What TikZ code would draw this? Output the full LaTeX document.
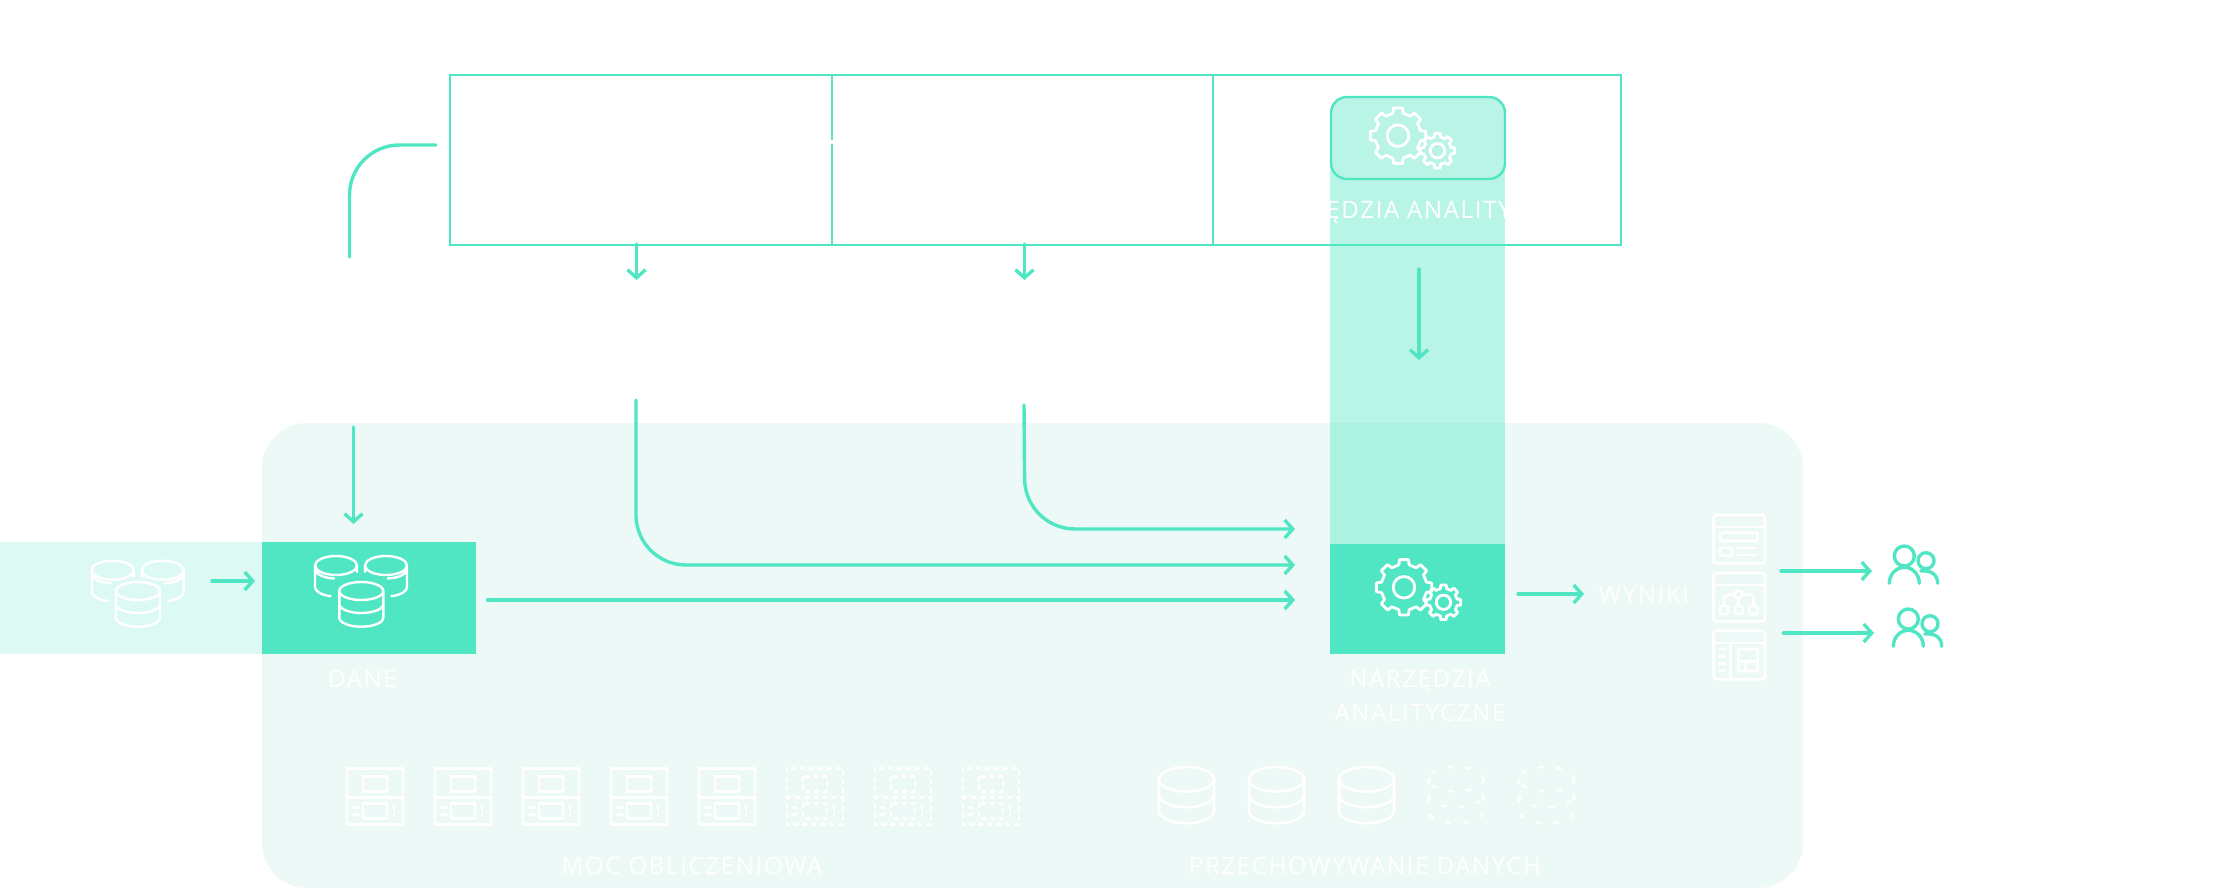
\documentclass[tikz,border=0pt]{standalone}
\usepackage{xcolor}
\usepackage{fontspec}
\setmainfont{Open Sans}
\newfontfamily\capfont[LetterSpace=7]{Open Sans}
\usetikzlibrary{arrows.meta,positioning}
\definecolor{lumateal}{HTML}{50E6C3}
\definecolor{lumapanel}{HTML}{ECF9F6}
\definecolor{lumacolumn}{HTML}{BAF4E6}
\tikzstyle{flow} = [line width=3.4pt, lumateal, line cap=round]
\tikzstyle{arrow} = [flow, -{Straight Barb[length=8pt,width=18pt,line width=3.4pt]}]
\tikzstyle{iconline} = [white, line width=2.8pt, line cap=round, line join=round]
\tikzstyle{dotline} = [dash pattern=on 3.5pt off 5.5pt]
\tikzstyle{sparse} = [dash pattern=on 4pt off 14pt]
\tikzstyle{userline} = [iconline, lumateal, line width=3.4pt]

% icons are placed from their top left corner
\newcommand{\gearicon}[4]{%
\draw[iconline, shift={(#1,#2)}] (-13:#4) \foreach \t in {0,45,...,315} {-- (\t-13:#4) -- (\t-9:#3) -- (\t+9:#3) -- (\t+13:#4)} -- cycle;}
\newcommand{\gearpair}[2]{%
\gearicon{#1}{#2}{28}{23}
\gearicon{#1+39.5}{#2+15}{17.5}{14}
\draw[iconline] (#1,#2) circle[radius=10.8pt] (#1+39.5,#2+15) circle[radius=7.2pt];}
\newcommand{\servericon}[2]{%
\draw[iconline, line width=2.6pt, shift={(#1,768.5)}, #2] (0,0) rectangle (56,56) (0,29) -- (56,29)
 (16,8) rectangle (40,23) (16,35) rectangle (40,50)
 (6,39) -- (12,39) (6,46) -- (12,46) (47,38) -- (47,40) (47,45) -- (47,47);}
\newcommand{\cylicon}[2]{%
\draw[iconline, line width=2.6pt, shift={(#1,767)}, #2] (27.5,12.3) ellipse[x radius=27.5pt, y radius=12.3pt]
 (0,12.3) -- (0,44) arc[start angle=180, end angle=360, x radius=27.5pt, y radius=12.3pt] -- (55,12.3)
 (0,28) arc[start angle=180, end angle=360, x radius=27.5pt, y radius=12.3pt];}
\newcommand{\dbicon}[2]{%
\draw[iconline, line width=2.4pt, shift={(#1,582)}] (22,9) ellipse[x radius=22pt, y radius=9pt]
 (0,9) -- (0,35.7) arc[start angle=180, end angle=360, x radius=22pt, y radius=9pt] -- (44,9)
 (0,22) arc[start angle=180, end angle=360, x radius=22pt, y radius=9pt];
\draw[iconline, line width=2.4pt, shift={(#1,#2)}] (-3.3,9.5) ellipse[x radius=21pt, y radius=9.5pt]
 (17.7,9.5) -- (17.7,16) (-24.3,9.5) -- (-24.3,31)
 (-24.3,13) arc[start angle=180, end angle=265, x radius=21pt, y radius=9.5pt]
 (-24.3,31) arc[start angle=180, end angle=255, x radius=21pt, y radius=9.5pt]
 (46.7,9.5) ellipse[x radius=21pt, y radius=9.5pt]
 (25.7,9.5) -- (25.7,16) (67.7,9.5) -- (67.7,31)
 (67.7,13) arc[start angle=360, end angle=275, x radius=21pt, y radius=9.5pt]
 (67.7,31) arc[start angle=360, end angle=285, x radius=21pt, y radius=9.5pt];}
\newcommand{\pageicon}[1]{%
\draw[iconline, line width=2.6pt, rounded corners=3pt] (1713.5,#1) rectangle (1765,#1+48.3);
\draw[iconline, line width=2.6pt] (1713.5,#1+12) -- (1765,#1+12);}
\newcommand{\usericon}[2]{%
\draw[userline, shift={(#1,#2)}] (0,0) circle[radius=10pt] (21.7,4.7) circle[radius=8pt]
 (-15,27.3) arc[start angle=180, end angle=0, x radius=15pt, y radius=16pt]
 (16.4,15) .. controls (26,14) and (33.4,18) .. (33.4,27.3);}

\begin{document}
\begin{tikzpicture}[x=1pt, y=-1pt,
  band/.style={rectangle, inner sep=0pt, outer sep=0pt},
  topbox/.style={band, draw=lumateal, line width=2.8pt, minimum height=170pt},
  caption/.style={font=\capfont\fontsize{24}{34}\selectfont, text=white, inner sep=0pt, align=center}]
\useasboundingbox (0,0) rectangle (2218,890);

\node[band, fill=lumapanel, rounded corners=45pt, minimum width=1541pt, minimum height=465pt] (panel) at (1032.5,655.5) {};
\node[band, fill=lumateal, minimum width=214pt, minimum height=112pt] (dane) at (369,598) {};
\node[band, fill=lumateal, opacity=0.2, minimum width=262pt, minimum height=112pt, left=0pt of dane] (source) {};
\node[band, fill=lumateal, minimum width=175pt, minimum height=110pt] (narzedzia) at (1417.5,599) {};

\node[topbox, minimum width=382pt] (boxa) at (641,160) {};
\node[topbox, minimum width=381pt, right=0pt of boxa] (boxb) {};
\node[topbox, minimum width=408pt, right=0pt of boxb] (boxc) {};
\node[band, fill=white, minimum width=4pt, minimum height=4pt] (gapmark) at (832,142) {};

\node[band, fill=lumateal, opacity=0.4, minimum width=175pt, minimum height=404pt] (column) at (1417.5,342) {};
\node[band, draw=lumateal, fill=lumacolumn, line width=2.4pt, rounded corners=16pt, minimum width=174pt, minimum height=82pt] (toolbox) at (1418,138) {};

\coordinate (elbowa) at (436,145);
\coordinate (elbowb) at (349.5,257);
\coordinate (boxaout) at (636.5,244);
\coordinate (boxaend) at (636.5,280);
\coordinate (boxbout) at (1024.5,244);
\coordinate (boxbend) at (1024.5,280);
\coordinate (toolout) at (1419,269);
\coordinate (toolend) at (1419,360);
\coordinate (feedout) at (353.5,427);
\coordinate (feedend) at (353.5,524);
\coordinate (sourceout) at (212,581);
\coordinate (sourceend) at (255,581);
\coordinate (srca) at (636,400);
\coordinate (ina) at (1295,565);
\coordinate (srcb) at (1024,405);
\coordinate (cornerb) at (1025,529);
\coordinate (inb) at (1295,529);
\coordinate (danein) at (1295,600);
\coordinate (daneout) at (487.5,600);
\coordinate (wynikiend) at (1584,594);
\coordinate (wynikiout) at (1518,594);
\coordinate (usera) at (1781,571);
\coordinate (useraend) at (1872,571);
\coordinate (userb) at (1783.5,633);
\coordinate (userbend) at (1874,633);

\draw[flow, rounded corners=50pt] (elbowa) -| (elbowb);
\draw[arrow] (boxaout) -- (boxaend);
\draw[arrow] (boxbout) -- (boxbend);
\draw[arrow] (toolout) -- (toolend);
\draw[arrow] (feedout) -- (feedend);
\draw[arrow] (sourceout) -- (sourceend);
\draw[arrow, rounded corners=50pt] (srca) |- (ina);
\draw[arrow, rounded corners=50pt] (srcb) -- (cornerb) -- (inb);
\draw[arrow] (daneout) -- (danein);
\draw[arrow] (wynikiout) -- (wynikiend);
\draw[arrow] (usera) -- (useraend);
\draw[arrow] (userb) -- (userbend);

\node[caption] (toollabel) at (1418,212) {NARZĘDZIA ANALITYCZNE};
\node[caption] (danelabel) at (362.5,679) {DANE};
\node[caption] (narzlabel) at (1420,696) {NARZĘDZIA\\ANALITYCZNE};
\node[caption] (wynikilabel) at (1644,595) {WYNIKI};
\node[caption] (moclabel) at (692,866) {MOC OBLICZENIOWA};
\node[caption] (storelabel) at (1365,866) {PRZECHOWYWANIE DANYCH};

\gearpair{1398}{135.7}
\gearpair{1404}{587.3}
\dbicon{116}{560.7}
\dbicon{339.3}{556}

\foreach \px in {347,435,523,611,699} {\servericon{\px}{}}
\foreach \px in {787,875,963} {\servericon{\px}{dotline}}
\foreach \px in {1159,1249,1339} {\cylicon{\px}{}}
\foreach \px in {1428.5,1519} {\cylicon{\px}{sparse}}

\pageicon{515}
\pageicon{573}
\pageicon{631}
\draw[iconline, line width=2.6pt, rounded corners=2pt] (1720,532.7) rectangle (1757.7,541) (1720,547.7) rectangle (1731.7,555.7);
\draw[iconline, line width=2.6pt] (1738,548) -- (1757,548) (1738,555) -- (1757,555);
\draw[iconline, line width=2.6pt, rounded corners=2pt] (1735,591) rectangle (1742,597.7) (1720,606) rectangle (1728.3,614)
 (1735,606) rectangle (1742.7,614) (1749.3,606) rectangle (1757.7,614);
\draw[iconline, line width=2.6pt, rounded corners=4pt] (1735,594.5) -| (1724,606) (1742,594.5) -| (1753.5,606);
\draw[iconline, line width=2.6pt] (1738.7,597.7) -- (1738.7,606);
\draw[iconline, line width=2.6pt] (1730.7,643) -- (1730.7,679.3)
 (1719.3,649) -- (1725.3,649) (1719.3,656.3) -- (1725.3,656.3) (1719.3,663.7) -- (1725.3,663.7) (1719.3,670.7) -- (1725.3,670.7);
\draw[iconline, line width=2.6pt, rounded corners=2pt] (1738.3,649) rectangle (1757.7,671);
\draw[iconline, line width=2.6pt] (1738.3,661.7) -- (1757.7,661.7) (1745.7,661.7) -- (1745.7,671);

\usericon{1904.3}{556}
\usericon{1908.3}{619}
\end{tikzpicture}
\end{document}
